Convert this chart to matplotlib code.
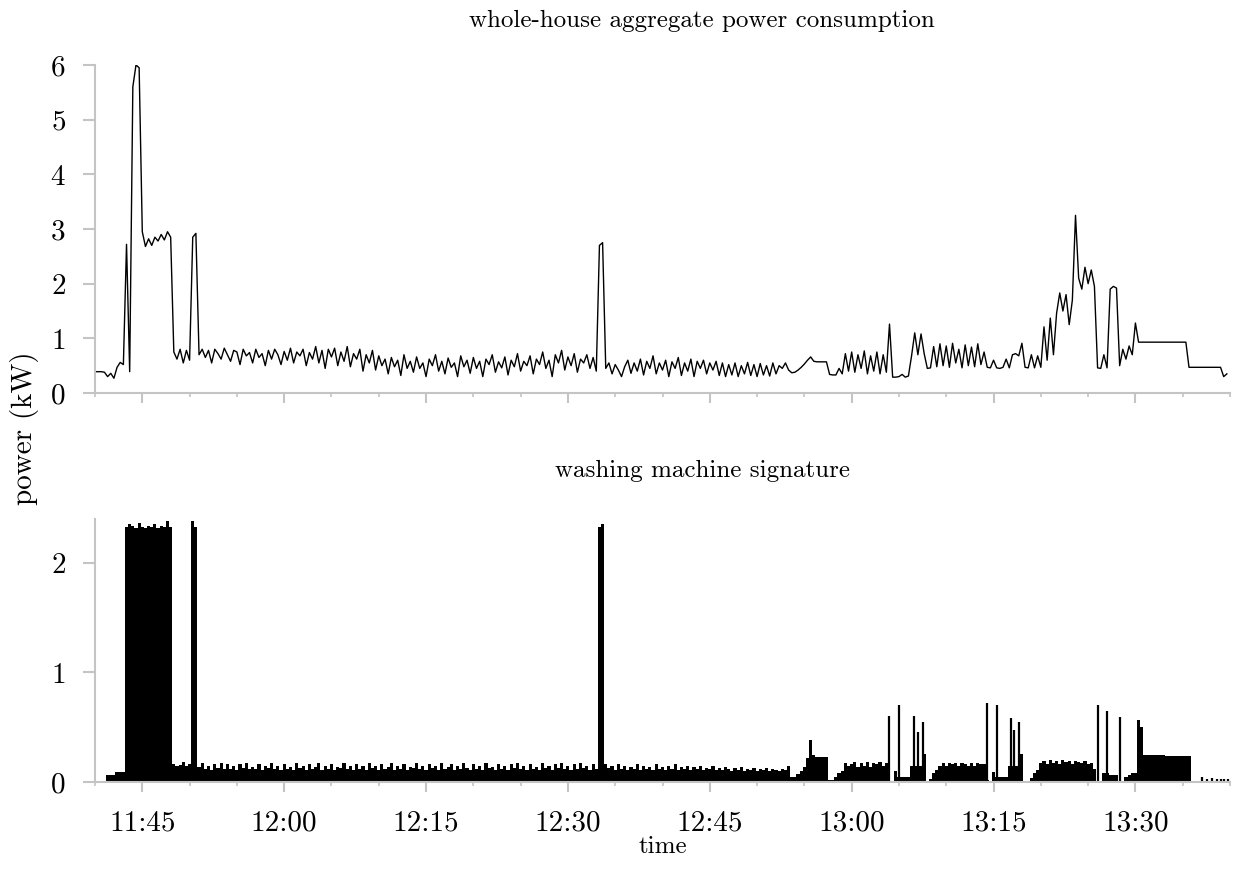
import numpy as np
import matplotlib
matplotlib.use("Agg")
import matplotlib.pyplot as plt
import matplotlib.dates as mdates

plt.rcParams['font.family'] = ['cmr10', 'DejaVu Serif']
plt.rcParams['axes.formatter.use_mathtext'] = True
plt.rcParams['mathtext.fontset'] = 'cm'

# samples every 20 s starting 11:40, three per row-minute
start = np.datetime64('2014-01-01T11:40:00')
step_s = 20

aggregate_kw = [
    0.39, 0.39, 0.39,  0.38, 0.30, 0.36,  0.27, 0.47, 0.56,  0.52, 2.72, 0.39,  5.60, 6.00, 5.95,
    2.95, 2.68, 2.82,  2.70, 2.85, 2.78,  2.90, 2.80, 2.95,  2.85, 0.75, 0.62,  0.80, 0.55, 0.78,
    0.60, 2.85, 2.92,  0.70, 0.80, 0.65,  0.78, 0.55, 0.80,  0.72, 0.62, 0.82,  0.70, 0.58, 0.78,
    0.75, 0.52, 0.80,  0.68, 0.74, 0.55,  0.80, 0.65, 0.72,  0.50, 0.78, 0.62,  0.80, 0.70, 0.52,
    0.76, 0.60, 0.82,  0.55, 0.75, 0.68,  0.80, 0.50, 0.74,  0.62, 0.85, 0.55,  0.78, 0.45, 0.80,
    0.66, 0.82, 0.50,  0.75, 0.58, 0.85,  0.48, 0.72, 0.62,  0.80, 0.40, 0.70,  0.55, 0.78, 0.42,
    0.68, 0.50, 0.62,  0.35, 0.65, 0.48,  0.60, 0.32, 0.70,  0.45, 0.58, 0.38,  0.66, 0.45, 0.55,
    0.30, 0.62, 0.50,  0.70, 0.40, 0.58,  0.35, 0.64, 0.47,  0.55, 0.30, 0.68,  0.48, 0.60, 0.36,
    0.65, 0.45, 0.58,  0.30, 0.62, 0.52,  0.70, 0.38, 0.57,  0.46, 0.66, 0.33,  0.60, 0.48, 0.72,
    0.40, 0.58, 0.50,  0.68, 0.35, 0.62,  0.52, 0.75, 0.45,  0.60, 0.30, 0.70,  0.55, 0.78, 0.42,
    0.66, 0.50, 0.72,  0.38, 0.62, 0.55,  0.70, 0.45, 0.65,  0.40, 2.70, 2.75,  0.45, 0.55, 0.35,
    0.52, 0.42, 0.30,  0.48, 0.60, 0.36,  0.55, 0.40, 0.62,  0.33, 0.58, 0.45,  0.68, 0.35, 0.55,
    0.42, 0.60, 0.30,  0.57, 0.45, 0.65,  0.32, 0.55, 0.40,  0.62, 0.30, 0.58,  0.45, 0.60, 0.35,
    0.55, 0.42, 0.58,  0.32, 0.55, 0.30,  0.52, 0.33, 0.55,  0.30, 0.50, 0.35,  0.56, 0.32, 0.52,
    0.30, 0.54, 0.33,  0.50, 0.31, 0.55,  0.35, 0.50, 0.45,  0.55, 0.42, 0.37,  0.38, 0.42, 0.47,
    0.53, 0.60, 0.66,  0.58, 0.57, 0.57,  0.57, 0.57, 0.34,  0.33, 0.33, 0.45,  0.35, 0.72, 0.40,
    0.75, 0.38, 0.70,  0.45, 0.77, 0.35,  0.68, 0.40, 0.75,  0.35, 0.70, 0.38,  1.26, 0.29, 0.29,
    0.30, 0.34, 0.29,  0.31, 0.68, 1.10,  0.70, 1.08, 0.72,  0.45, 0.46, 0.85,  0.48, 0.90, 0.50,
    0.86, 0.47, 0.91,  0.55, 0.80, 0.46,  0.88, 0.50, 0.84,  0.48, 0.90, 0.52,  0.75, 0.47, 0.46,
    0.60, 0.46, 0.45,  0.47, 0.62, 0.46,  0.70, 0.72, 0.68,  0.91, 0.47, 0.46,  0.70, 0.46, 0.68,
    0.47, 1.21, 0.60,  1.37, 0.70, 1.46,  1.83, 1.50, 1.80,  1.25, 1.70, 3.25,  2.10, 1.90, 2.30,
    2.00, 2.25, 1.95,  0.46, 0.45, 0.70,  0.46, 1.90, 1.95,  1.92, 0.50, 0.80,  0.62, 0.86, 0.70,
    1.28, 0.93, 0.93,  0.93, 0.93, 0.93,  0.93, 0.93, 0.93,  0.93, 0.93, 0.93,  0.93, 0.93, 0.93,
    0.93, 0.93, 0.47,  0.47, 0.47, 0.47,  0.47, 0.47, 0.47,  0.47, 0.47, 0.47,  0.47, 0.30, 0.35,
]

# washing machine envelope, same 20 s grid
washer_kw = [
    0.00, 0.00, 0.00,  0.01, 0.064, 0.064,  0.064, 0.094, 0.094,  0.094, 2.33, 2.35,  2.34, 2.32, 2.36,
    2.33, 2.32, 2.34,  2.33, 2.35, 2.32,  2.34, 2.33, 2.38,  2.33, 0.16, 0.15,  0.155, 0.18, 0.15,
    0.16, 2.38, 2.33,  0.14, 0.17, 0.12,  0.15, 0.11, 0.16,  0.13, 0.17, 0.12,  0.16, 0.12, 0.15,
    0.11, 0.16, 0.13,  0.17, 0.12, 0.14,  0.12, 0.16, 0.11,  0.15, 0.13, 0.17,  0.12, 0.15, 0.11,
    0.16, 0.12, 0.14,  0.11, 0.17, 0.13,  0.15, 0.11, 0.16,  0.12, 0.14, 0.17,  0.11, 0.15, 0.12,
    0.16, 0.11, 0.14,  0.13, 0.17, 0.12,  0.15, 0.11, 0.16,  0.12, 0.15, 0.11,  0.17, 0.13, 0.15,
    0.11, 0.16, 0.12,  0.14, 0.17, 0.11,  0.15, 0.12, 0.16,  0.11, 0.14, 0.13,  0.17, 0.12, 0.15,
    0.11, 0.16, 0.13,  0.15, 0.11, 0.17,  0.12, 0.14, 0.16,  0.11, 0.15, 0.12,  0.17, 0.13, 0.11,
    0.16, 0.12, 0.15,  0.11, 0.17, 0.13,  0.14, 0.11, 0.16,  0.12, 0.15, 0.11,  0.16, 0.13, 0.17,
    0.12, 0.15, 0.11,  0.16, 0.12, 0.14,  0.11, 0.17, 0.13,  0.15, 0.11, 0.16,  0.13, 0.17, 0.12,
    0.15, 0.11, 0.16,  0.12, 0.17, 0.13,  0.15, 0.11, 0.16,  0.12, 2.33, 2.35,  0.16, 0.13, 0.15,
    0.11, 0.16, 0.12,  0.15, 0.11, 0.14,  0.12, 0.16, 0.11,  0.15, 0.12, 0.14,  0.11, 0.16, 0.12,
    0.14, 0.11, 0.15,  0.12, 0.16, 0.11,  0.14, 0.12, 0.15,  0.11, 0.14, 0.12,  0.15, 0.11, 0.13,
    0.12, 0.15, 0.11,  0.13, 0.11, 0.14,  0.12, 0.10, 0.13,  0.11, 0.14, 0.10,  0.12, 0.11, 0.13,
    0.10, 0.12, 0.11,  0.13, 0.10, 0.12,  0.11, 0.10, 0.12,  0.11, 0.15, 0.05,  0.05, 0.07, 0.10,
    0.14, 0.22, 0.38,  0.25, 0.23, 0.23,  0.23, 0.23, 0.02,  0.02, 0.05, 0.08,  0.10, 0.17, 0.15,
    0.16, 0.18, 0.14,  0.17, 0.15, 0.18,  0.14, 0.17, 0.16,  0.18, 0.15, 0.17,  0.00, 0.00, 0.10,
    0.05, 0.05, 0.05,  0.05, 0.15, 0.15,  0.15, 0.15, 0.26,  0.00, 0.03, 0.08,  0.11, 0.15, 0.17,
    0.15, 0.17, 0.16,  0.17, 0.15, 0.17,  0.16, 0.15, 0.17,  0.15, 0.17, 0.16,  0.16, 0.02, 0.00,
    0.09, 0.05, 0.05,  0.05, 0.05, 0.15,  0.15, 0.15, 0.15,  0.26, 0.00, 0.00,  0.04, 0.08, 0.11,
    0.17, 0.19, 0.16,  0.20, 0.17, 0.19,  0.16, 0.20, 0.18,  0.19, 0.16, 0.19,  0.18, 0.17, 0.19,
    0.16, 0.17, 0.12,  0.00, 0.00, 0.08,  0.08, 0.06, 0.06,  0.06, 0.00, 0.00,  0.05, 0.06, 0.08,
    0.08, 0.57, 0.50,  0.25, 0.245, 0.245,  0.245, 0.245, 0.245,  0.245, 0.24, 0.24,  0.24, 0.24, 0.24,
    0.24, 0.24, 0.24,  0.00, 0.00, 0.00,  0.00, 0.00, 0.00,  0.00, 0.00, 0.00,  0.00, 0.00, 0.00,
]

# short motor spikes (minutes after 11:40, kW)
spike_min = [83.9, 85.0, 86.6, 87.0, 87.5, 94.3, 95.4, 96.8, 97.2, 97.7, 106.0, 107.0, 108.4,
             117.0, 117.6, 118.1, 118.6, 119.0, 119.4, 119.8]
spike_kw = [0.60, 0.70, 0.60, 0.46, 0.55, 0.72, 0.70, 0.58, 0.47, 0.55, 0.70, 0.65, 0.59,
            0.05, 0.03, 0.04, 0.03, 0.03, 0.03, 0.03]

assert len(aggregate_kw) == 360 and len(washer_kw) == 360

times = start + np.arange(len(aggregate_kw)) * np.timedelta64(step_s, 's')
tnum = mdates.date2num(times)
spike_t = mdates.date2num(start + (np.array(spike_min) * 60).astype(int) * np.timedelta64(1, 's'))

W, H = 1235, 877
fig = plt.figure(figsize=(W / 100, H / 100), dpi=100)
ax1 = fig.add_axes([95 / W, 1 - 393 / H, 1135 / W, 328 / H])
ax2 = fig.add_axes([95 / W, 1 - 782 / H, 1135 / W, 263 / H])

grey = '#c4c4c4'

ax1.plot(tnum, aggregate_kw, color='black', lw=1.0)
ax2.bar(tnum, washer_kw, width=step_s / 86400, color='black', linewidth=0, align='center')
ax2.vlines(spike_t, 0, spike_kw, color='black', lw=1.6)

xmin = mdates.date2num(start)
xmax = mdates.date2num(start + np.timedelta64(120, 'm'))

for ax in (ax1, ax2):
    ax.set_xlim(xmin, xmax)
    for s in ('top', 'right'):
        ax.spines[s].set_visible(False)
    for s in ('left', 'bottom'):
        ax.spines[s].set_color(grey)
        ax.spines[s].set_linewidth(1.5)
    ax.xaxis.set_major_locator(mdates.MinuteLocator(byminute=[0, 15, 30, 45]))
    ax.xaxis.set_minor_locator(mdates.MinuteLocator(byminute=range(0, 60, 5)))
    ax.xaxis.set_major_formatter(mdates.DateFormatter('%H:%M'))
    ax.tick_params(axis='both', which='major', color=grey, width=1.5, length=7, labelsize=21)
    ax.tick_params(axis='x', which='minor', color=grey, width=1.2, length=3)
    ax.tick_params(axis='x', which='major', pad=13)
    ax.tick_params(axis='y', which='major', pad=12, length=9)

ax1.set_ylim(0, 6)
ax1.set_yticks(range(0, 7))
ax1.tick_params(axis='x', labelbottom=False)
ax2.set_ylim(0, 2.4)
ax2.set_yticks([0, 1, 2])

ax1.set_title('whole-house aggregate power consumption', fontsize=18, x=0.535, pad=27)
ax2.set_title('washing machine signature', fontsize=18, x=0.535, pad=30)
ax2.set_xlabel('time', fontsize=18, labelpad=0)
fig.text(25 / W, 1 - 428 / H, 'power (kW)', rotation=90, fontsize=21, ha='center', va='center')

fig.savefig('out.png', dpi=100)
